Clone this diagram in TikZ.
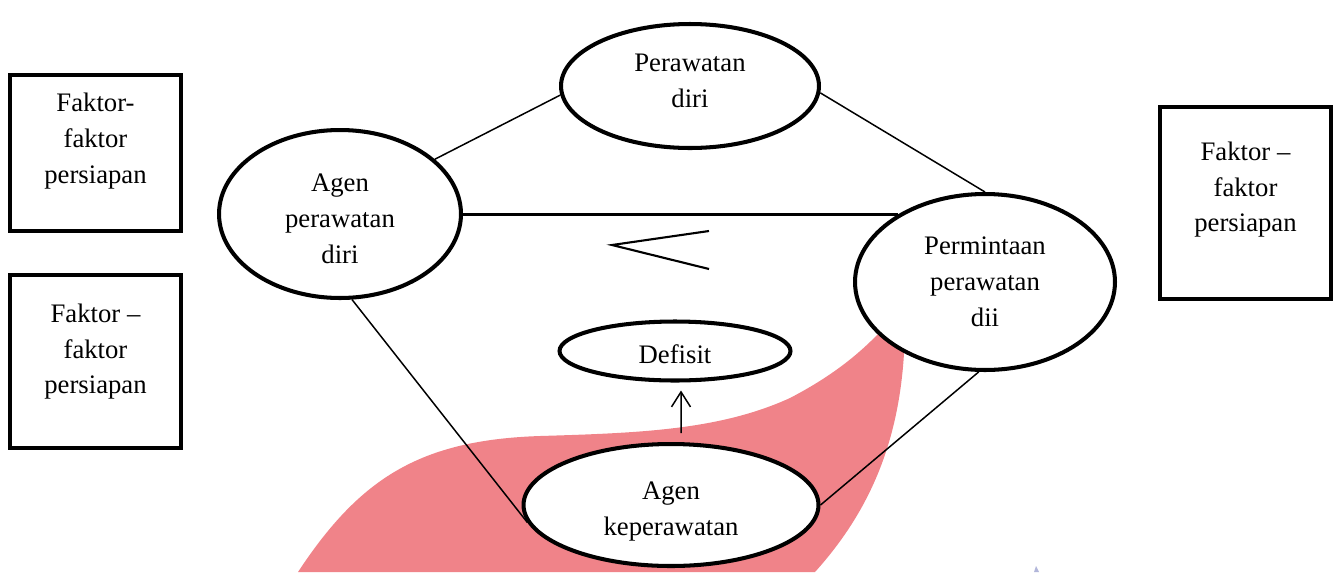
\documentclass[tikz,border=0pt]{standalone}
\usepackage{fontspec}
\setmainfont{Liberation Serif}
\usetikzlibrary{shapes.geometric, arrows.meta, backgrounds}

\definecolor{blobpink}{RGB}{240,131,137}
\definecolor{markblue}{RGB}{178,182,218}

\tikzset{
    konsep/.style={ellipse, draw, line width=2.3pt, fill=white, inner sep=0pt, align=center,
        font=\fontsize{15.2pt}{20.4pt}\selectfont},
    faktor/.style={rectangle, draw, line width=2.3pt, fill=white, align=center, minimum width=3.42cm,
        text depth=16.5pt, font=\fontsize{15.2pt}{20.4pt}\selectfont},
    garis/.style={line width=0.85pt},
}

\begin{document}
\begin{tikzpicture}[x=0.02cm, y=-0.02cm]
    \useasboundingbox (0,0) rectangle (1338,572);

    \node[faktor, minimum height=3.12cm] (f1) at (95.5,153) {Faktor-\\faktor\\persiapan};
    \node[faktor, minimum height=3.46cm, text depth=14.5pt] (f2) at (95.5,361.5) {Faktor –\\faktor\\persiapan};
    \node[faktor, minimum height=3.84cm, text depth=18.5pt] (f3) at (1245.5,203) {Faktor –\\faktor\\persiapan};

    \node[konsep, minimum width=5.16cm, minimum height=2.48cm, text depth=5.6pt] (rawat) at (690,86) {Perawatan\\diri};
    \node[konsep, minimum width=4.84cm, minimum height=3.36cm, text height=56.3pt] (agen) at (340,214) {Agen\\perawatan\\diri};
    \node[konsep, minimum width=5.2cm, minimum height=3.52cm] (minta) at (985,282) {Permintaan\\perawatan\\dii};
    \node[konsep, minimum width=4.62cm, minimum height=1.18cm, text height=14.6pt] (defisit) at (675,351) {Defisit};
    \node[konsep, minimum width=5.9cm, minimum height=2.44cm, text height=38.3pt] (kep) at (671,505) {Agen\\keperawatan};

    \draw[garis] (agen.30) -- (rawat.184);
    \draw[garis] (rawat.-3) -- (minta.north);
    \draw[garis, line width=1.7pt] (agen.east) -- (agen.east -| minta.142);
    \draw[garis] (agen.278) -- (kep.187);
    \draw[garis] (kep.east) -- (minta.266);
    \draw[garis, -{Straight Barb[length=0.3cm, width=0.38cm]}, shorten <=0.18cm, shorten >=0.16cm]
        ([xshift=0.2cm]kep.north) -- ([xshift=0.12cm]defisit.south);

    \draw[line width=1.2pt] (709,231) -- (612,245) -- (709,269);

    \begin{scope}[on background layer]
        \fill[blobpink] (298,572) .. controls (360,478) and (420,440) .. (540,436)
            .. controls (640,433) and (720,430) .. (790,398)
            .. controls (840,372) and (870,345) .. (895,315)
            -- (905,320) .. controls (905,420) and (880,500) .. (815,572) -- cycle;
        \fill[markblue] (1034,572) -- (1036,566) -- (1039,572) -- cycle;
    \end{scope}
\end{tikzpicture}
\end{document}
